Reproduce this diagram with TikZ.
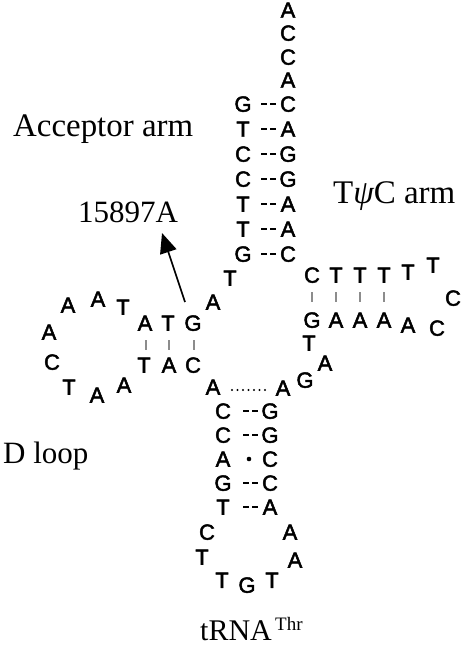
\documentclass[tikz,border=0pt]{standalone}
\usepackage{fontspec}
\setmainfont{Liberation Serif}
\newfontfamily\ntfont[FakeBold=2.2]{Liberation Sans}
\usetikzlibrary{arrows.meta}
\tikzset{
  nt/.style={inner sep=0pt, text height=15.5pt, text depth=0pt, anchor=center,
    font=\ntfont\fontsize{22}{22}\selectfont},
  lbl/.style={inner sep=0pt, anchor=base west},
  pairdash/.style={line width=1.7pt, dash pattern=on 6pt off 3pt},
  pairbar/.style={line width=1.3pt, draw=black!45},
  dotline/.style={line width=2.2pt, line cap=round, dash pattern=on 0pt off 5.5pt},
  arr/.style={line width=1.7pt, -{Triangle[length=20pt,width=17pt]}}
}
\begin{document}
\begin{tikzpicture}[x=1pt,y=-1pt]
\useasboundingbox (0,0) rectangle (462,655);
% labels
\node[lbl, font=\fontsize{32.9}{33}\selectfont] (lacc) at (13,137) {Acceptor arm};
\node[lbl, font=\fontsize{31}{31}\selectfont] (lmut) at (78,222) {15897A};
\node[lbl, font=\fontsize{33}{33}\selectfont] (ltpc) at (333,203) {T{\itshape ψ}C arm};
\node[lbl, font=\fontsize{31}{31}\selectfont] (ldl) at (3,463) {D loop};
\node[lbl, font=\fontsize{30}{30}\selectfont] (ltrna) at (200,640) {tRNA};
\node[lbl, font=\fontsize{19}{19}\selectfont] (lthr) at (275,630) {Thr};
% acceptor 3' end
\node[nt] (e1) at (288,10) {A};
\node[nt] (e2) at (288,33) {C};
\node[nt] (e3) at (288,57) {C};
\node[nt] (e4) at (288,80) {A};
% acceptor stem
\foreach \i/\l/\r [count=\k] in {104/G/C,129/T/A,154/C/G,179/C/G,204/T/A,229/T/A,254/G/C}{
  \node[nt] (al\k) at (243,\i) {\l};
  \node[nt] (ar\k) at (288,\i) {\r};
  \coordinate (ad\k a) at (261,\i);
  \coordinate (ad\k b) at (276,\i);
  \draw[pairdash] (ad\k a) -- (ad\k b);
}
\node[nt] (j1) at (230,278) {T};
\node[nt] (j2) at (213,302) {A};
% D stem
\node[nt] (dt1) at (145,323) {A};
\node[nt] (dt2) at (168,323) {T};
\node[nt] (dt3) at (193,323) {G};
\node[nt] (db1) at (144,365) {T};
\node[nt] (db2) at (169,365) {A};
\node[nt] (db3) at (193,365) {C};
\foreach \x [count=\k] in {146,169,194}{
  \coordinate (dba\k) at (\x,340);
  \coordinate (dbb\k) at (\x,350);
  \draw[pairbar] (dba\k) -- (dbb\k);
}
% D loop
\node[nt] (dl1) at (123,307) {T};
\node[nt] (dl2) at (98,299) {A};
\node[nt] (dl3) at (68,305) {A};
\node[nt] (dl4) at (49,332) {A};
\node[nt] (dl5) at (52,362) {C};
\node[nt] (dl6) at (69,387) {T};
\node[nt] (dl7) at (97,395) {A};
\node[nt] (dl8) at (124,385) {A};
% junction
\node[nt] (k1) at (213,387) {A};
\node[nt] (k2) at (283,388) {A};
\coordinate (dot1) at (232,390);
\coordinate (dot2) at (265,390);
\draw[dotline] (dot1) -- (dot2);
% anticodon stem
\foreach \i/\l/\r [count=\k] in {411/C/G,435/C/G,459/A/C,483/G/C,507/T/A}{
  \node[nt] (cl\k) at (223,\i) {\l};
  \node[nt] (cr\k) at (270,\i) {\r};
}
\foreach \k/\i in {1/411,2/435,4/483,5/507}{
  \coordinate (cd\k a) at (243,\i);
  \coordinate (cd\k b) at (258,\i);
  \draw[pairdash] (cd\k a) -- (cd\k b);
}
\fill (249,459) circle (2.3pt);
% anticodon loop
\node[nt] (al1x) at (207,532) {C};
\node[nt] (al2x) at (202,557) {T};
\node[nt] (al3x) at (222,580) {T};
\node[nt] (al4x) at (247,585) {G};
\node[nt] (al5x) at (272,580) {T};
\node[nt] (al6x) at (295,560) {A};
\node[nt] (al7x) at (290,532) {A};
% variable loop
\node[nt] (v1) at (305,380) {G};
\node[nt] (v2) at (325,363) {A};
\node[nt] (v3) at (309,343) {T};
% T stem
\foreach \x/\t/\b [count=\k] in {312/C/G,336/T/A,360/T/A,384/T/A}{
  \node[nt] (tt\k) at (\x,275) {\t};
  \node[nt] (tb\k) at (\x,320) {\b};
  \coordinate (tba\k) at (\x,292);
  \coordinate (tbb\k) at (\x,302);
  \draw[pairbar] (tba\k) -- (tbb\k);
}
% T loop
\node[nt] (tl1) at (408,272) {T};
\node[nt] (tl2) at (433,265) {T};
\node[nt] (tl3) at (453,298) {C};
\node[nt] (tl4) at (437,328) {C};
\node[nt] (tl5) at (408,325) {A};
% arrow
\coordinate (atail) at (185,302);
\coordinate (atip) at (162,233);
\draw[arr] (atail) -- (atip);
\end{tikzpicture}
\end{document}
